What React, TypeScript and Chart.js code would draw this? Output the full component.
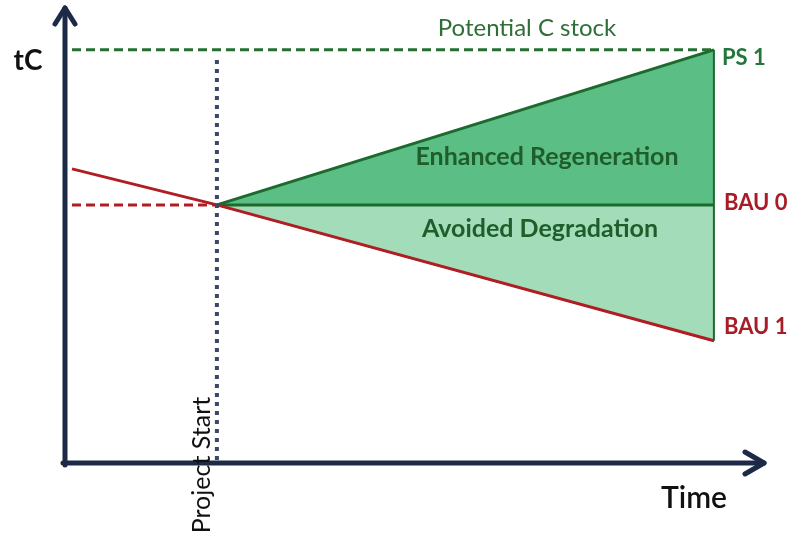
import React, { useEffect, useRef } from "react";
import { Chart, registerables } from "chart.js";

Chart.register(...registerables);

// ---- data ----
const xRange = [0, 100]; // time axis
const yRange = [0, 100]; // tC axis
const historicX = [1.0, 21.7, 92.7]; // BAU trend (red)
const historicY = [64.5, 56.6, 26.8];
const projectX = [21.7, 92.7]; // project start -> end
const bau0Y = [56.6, 56.6];
const ps1Y = [56.6, 90.6];
const bau1Y = [56.6, 26.8];
const potentialX = [1.0, 92.7];
const potentialY = [90.6, 90.6];
const baselineDashX = [1.0, 21.7];
const baselineDashY = [56.6, 56.6];
const startLineX = [21.7, 21.7];
const startLineY = [88.4, 0];
const rightEdgeX = [92.7, 92.7];
const rightEdgeY = [90.6, 26.8];

const endLabels = ["PS 1", "BAU 0", "BAU 1"];
const areaLabels = ["Enhanced Regeneration", "Avoided Degradation"];
const axisLabels = ["tC", "Time"];
const topLabel = "Potential C stock";
const startLabel = "Project Start";

const pts = (xs: number[], ys: number[]) => xs.map((x, i) => ({ x, y: ys[i] }));

const NAVY = "#1c2a48";
const DARK_GREEN = "#1d6a2e";
const RED = "#b01e24";
const FONT = "Lato, 'Open Sans', sans-serif";

const overlay = {
  id: "overlay",
  beforeDatasetsDraw(chart: any) {
    const { ctx, scales } = chart;
    const x = scales.x, y = scales.y;
    const x0 = x.getPixelForValue(xRange[0]);
    const x1 = x.getPixelForValue(xRange[1]);
    const y0 = y.getPixelForValue(yRange[0]);
    const y1 = y.getPixelForValue(yRange[1]);
    ctx.save();
    ctx.strokeStyle = NAVY;
    ctx.lineWidth = 5;
    ctx.lineCap = "round";
    ctx.lineJoin = "round";
    ctx.beginPath();
    ctx.moveTo(x0, y0 + 2);
    ctx.lineTo(x0, y1 + 1);
    ctx.moveTo(x0 - 2, y0);
    ctx.lineTo(x1 - 1, y0);
    ctx.stroke();
    ctx.beginPath();
    ctx.moveTo(x0 - 10, y1 + 17);
    ctx.lineTo(x0, y1 + 1);
    ctx.lineTo(x0 + 10, y1 + 17);
    ctx.moveTo(x1 - 20, y0 - 11);
    ctx.lineTo(x1 - 1, y0);
    ctx.lineTo(x1 - 20, y0 + 11);
    ctx.stroke();
    ctx.restore();
  },
  afterDatasetsDraw(chart: any) {
    const { ctx, scales } = chart;
    const x = scales.x, y = scales.y;
    const x0 = x.getPixelForValue(xRange[0]);
    const y0 = y.getPixelForValue(yRange[0]);
    const xEnd = x.getPixelForValue(projectX[1]);
    const xStart = x.getPixelForValue(projectX[0]);
    const yPot = y.getPixelForValue(potentialY[0]);
    const yPS = y.getPixelForValue(ps1Y[1]);
    const yB0 = y.getPixelForValue(bau0Y[1]);
    const yB1 = y.getPixelForValue(bau1Y[1]);
    ctx.save();
    ctx.textBaseline = "middle";

    // axis labels
    ctx.fillStyle = "#111";
    ctx.textAlign = "center";
    ctx.font = `bold 28px ${FONT}`;
    ctx.fillText(axisLabels[0], x0 - 37, yPot + 11);
    ctx.font = `600 30px ${FONT}`;
    ctx.fillText(axisLabels[1], 694, y0 + 35);

    // potential stock label
    ctx.fillStyle = "#2f6e36";
    ctx.font = `24px ${FONT}`;
    ctx.fillText(topLabel, 527, yPot - 22);

    // end labels
    ctx.textAlign = "left";
    ctx.font = `bold 22px ${FONT}`;
    ctx.fillStyle = "#24773a";
    ctx.fillText(endLabels[0], xEnd + 8, yPS + 8);
    ctx.fillStyle = "#a81c27";
    ctx.fillText(endLabels[1], xEnd + 10, yB0 - 2);
    ctx.fillText(endLabels[2], xEnd + 10, yB1 - 14);

    // area labels
    ctx.textAlign = "center";
    ctx.fillStyle = "#1f5d2b";
    ctx.font = `bold 25px ${FONT}`;
    ctx.fillText(areaLabels[0], 547, yB0 - 48);
    ctx.fillText(areaLabels[1], 540, yB0 + 24);

    // project start (rotated)
    ctx.save();
    ctx.translate(xStart - 15, y0 + 2);
    ctx.rotate(-Math.PI / 2);
    ctx.fillStyle = "#111";
    ctx.font = `25px ${FONT}`;
    ctx.fillText(startLabel, 0, 0);
    ctx.restore();

    ctx.restore();
  },
};

export default function App() {
  const ref = useRef<HTMLCanvasElement | null>(null);
  useEffect(() => {
    if (!ref.current) return;
    const common = { pointRadius: 0, pointHoverRadius: 0, tension: 0 };
    const chart = new Chart(ref.current, {
      type: "line",
      data: {
        datasets: [
          // 0 upper edge: fill to BAU0 (enhanced regeneration)
          {
            ...common,
            data: pts(projectX, ps1Y),
            borderColor: DARK_GREEN,
            borderWidth: 3,
            backgroundColor: "#5abe85",
            fill: 1,
            order: 5,
          },
          // 1 BAU0 green line: fill to lower edge (avoided degradation)
          {
            ...common,
            data: pts(projectX, bau0Y),
            borderColor: DARK_GREEN,
            borderWidth: 3,
            backgroundColor: "#a2dcb9",
            fill: 2,
            order: 4,
          },
          // 2 lower edge
          {
            ...common,
            data: pts(projectX, bau1Y),
            borderColor: DARK_GREEN,
            borderWidth: 2,
            fill: false,
            order: 6,
          },
          // 3 right edge
          {
            ...common,
            data: pts(rightEdgeX, rightEdgeY),
            borderColor: DARK_GREEN,
            borderWidth: 2,
            fill: false,
            order: 3,
          },
          // 4 red BAU trend
          {
            ...common,
            data: pts(historicX, historicY),
            borderColor: RED,
            borderWidth: 3,
            fill: false,
            order: 2,
          },
          // 5 potential stock dashed
          {
            ...common,
            data: pts(potentialX, potentialY),
            borderColor: "#24702f",
            borderWidth: 3,
            borderDash: [9, 5],
            fill: false,
            order: 2,
          },
          // 6 baseline dashed
          {
            ...common,
            data: pts(baselineDashX, baselineDashY),
            borderColor: RED,
            borderWidth: 3,
            borderDash: [9, 5],
            fill: false,
            order: 2,
          },
          // 7 project start dotted
          {
            ...common,
            data: pts(startLineX, startLineY),
            borderColor: "#3a4868",
            borderWidth: 4,
            borderDash: [4, 5],
            fill: false,
            order: 1,
          },
        ],
      },
      options: {
        animation: false,
        responsive: false,
        events: [],
        layout: { padding: { left: 65, right: 26, top: 7, bottom: 81 } },
        plugins: {
          legend: { display: false },
          tooltip: { enabled: false },
          filler: { propagate: false },
        },
        scales: {
          x: { type: "linear", min: xRange[0], max: xRange[1], display: false },
          y: { type: "linear", min: yRange[0], max: yRange[1], display: false },
        },
      },
      plugins: [overlay],
    } as any);
    return () => chart.destroy();
  }, []);
  return (
    <div style={{ position: "absolute", left: 0, top: 0, width: 791, height: 544, background: "#fff" }}>
      <canvas ref={ref} width={791} height={544} />
    </div>
  );
}
